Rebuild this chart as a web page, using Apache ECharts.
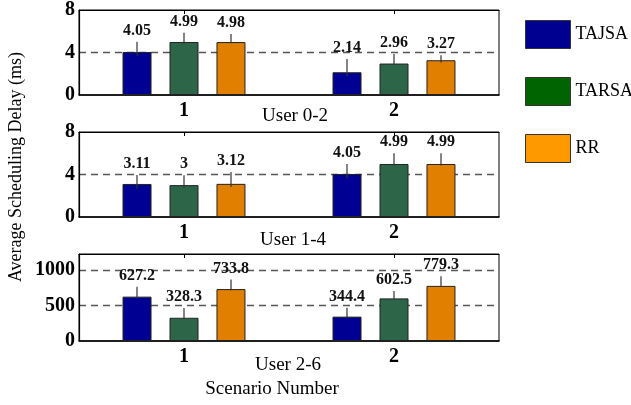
<!DOCTYPE html>
<html>
<head>
<meta charset="utf-8">
<script src="https://cdn.jsdelivr.net/npm/echarts@6/dist/echarts.min.js"></script>
<style>
  html, body { margin: 0; padding: 0; background: #fff; }
  #chart { width: 631px; height: 405px; }
</style>
</head>
<body>
<div id="chart"></div>
<script>
// Scenario categories and panel captions
const categories = ['1', '2'];
const panelTitles = ['User 0-2', 'User 1-4', 'User 2-6'];
const algorithms = ['TAJSA', 'TARSA', 'RR'];

// Mean scheduling delay (ms), per panel, per algorithm, per scenario
const tajsaP1 = [4.05, 2.14];
const tarsaP1 = [4.99, 2.96];
const rrP1 = [4.98, 3.27];

const tajsaP2 = [3.11, 4.05];
const tarsaP2 = [3.0, 4.99];
const rrP2 = [3.12, 4.99];

const tajsaP3 = [627.2, 344.4];
const tarsaP3 = [328.3, 602.5];
const rrP3 = [733.8, 779.3];

// Error bar extents above / below each mean
const tajsaUpP1 = [0.97, 1.25];
const tarsaUpP1 = [0.87, 0.9];
const rrUpP1 = [0.76, 0.48];
const tajsaDnP1 = [0.35, 0.37];
const tarsaDnP1 = [0.2, 0.05];
const rrDnP1 = [0.1, 0.22];

const tajsaUpP2 = [0.85, 0.94];
const tarsaUpP2 = [0.93, 1.0];
const rrUpP2 = [1.12, 1.0];
const tajsaDnP2 = [0.5, 0.4];
const tarsaDnP2 = [0.25, 0.15];
const rrDnP2 = [0.3, 0.15];

const tajsaUpP3 = [140, 125];
const tarsaUpP3 = [140, 105];
const rrUpP3 = [135, 136];
const tajsaDnP3 = [25, 15];
const tarsaDnP3 = [20, 15];
const rrDnP3 = [15, 15];

// Y axis ranges and tick spacing per panel
const yMax = [8, 8, 1230];
const yStep = [4, 4, 500];

const panels = [
  { vals: [tajsaP1, tarsaP1, rrP1], up: [tajsaUpP1, tarsaUpP1, rrUpP1], dn: [tajsaDnP1, tarsaDnP1, rrDnP1] },
  { vals: [tajsaP2, tarsaP2, rrP2], up: [tajsaUpP2, tarsaUpP2, rrUpP2], dn: [tajsaDnP2, tarsaDnP2, rrDnP2] },
  { vals: [tajsaP3, tarsaP3, rrP3], up: [tajsaUpP3, tarsaUpP3, rrUpP3], dn: [tajsaDnP3, tarsaDnP3, rrDnP3] }
];

const barColors = ['#000092', '#2c6548', '#e07f00'];
const legendColors = ['#000090', '#006400', '#ff9900'];
const SERIF = '"Liberation Serif", "DejaVu Serif", serif';

const BAR_W = 29;
const GAP = 18;
const STEP = BAR_W + GAP;

const grids = [
  { left: 79, top: 9, width: 420, height: 86 },
  { left: 79, top: 132, width: 420, height: 85 },
  { left: 79, top: 254, width: 420, height: 87 }
].map(g => Object.assign({ show: true, borderColor: '#000', borderWidth: 1, backgroundColor: 'transparent' }, g));

const xAxes = [];
const yAxes = [];
const series = [];

panels.forEach((p, gi) => {
  xAxes.push({
    type: 'category', gridIndex: gi, data: categories, position: 'bottom',
    axisLine: { show: true, lineStyle: { color: '#000', width: 1.6 } },
    axisTick: { show: false },
    axisLabel: { fontFamily: SERIF, fontWeight: 'bold', fontSize: 20, color: '#000', margin: 6 }
  });
  xAxes.push({
    type: 'category', gridIndex: gi, data: categories, position: 'top',
    axisLine: { show: true, lineStyle: { color: '#000', width: 1 } },
    axisTick: { show: true, inside: true, length: 4, alignWithLabel: true, lineStyle: { color: '#000' } },
    axisLabel: { show: false }
  });
  yAxes.push({
    type: 'value', gridIndex: gi, min: 0, max: yMax[gi], interval: yStep[gi],
    axisLine: { show: true, lineStyle: { color: '#000', width: 1.2 } },
    axisTick: { show: false },
    axisLabel: { fontFamily: SERIF, fontWeight: 'bold', fontSize: 20, color: '#000', margin: 4,
                 showMaxLabel: gi < 2, formatter: v => String(v) },
    splitLine: { show: true, showMinLine: false, showMaxLine: false,
                 lineStyle: { color: '#555', type: [7, 5], width: 1.3 } }
  });

  p.vals.forEach((arr, k) => {
    series.push({
      name: algorithms[k], type: 'bar', xAxisIndex: gi * 2, yAxisIndex: gi,
      data: arr, barWidth: BAR_W, barGap: Math.round(GAP / BAR_W * 100) + '%',
      itemStyle: { color: barColors[k], borderColor: '#222', borderWidth: 1 },
      emphasis: { disabled: true }, z: 2
    });
  });

  // error bars with value labels
  const errData = [];
  p.vals.forEach((arr, k) => {
    arr.forEach((v, ci) => errData.push([ci, v, k, p.up[k][ci], p.dn[k][ci]]));
  });
  series.push({
    type: 'custom', xAxisIndex: gi * 2, yAxisIndex: gi, z: 10,
    encode: { x: 0, y: 1 },
    data: errData,
    renderItem: function (params, api) {
      const ci = api.value(0), v = api.value(1), k = api.value(2);
      const up = api.value(3), dn = api.value(4);
      const base = api.coord([ci, v]);
      const x = base[0] + (k - 1) * STEP;
      const yTop = api.coord([ci, v + up])[1];
      const yBot = api.coord([ci, v - dn])[1];
      return {
        type: 'group',
        children: [
          { type: 'line', shape: { x1: x, y1: yTop, x2: x, y2: yBot }, style: { stroke: '#333', lineWidth: 1.2 } },
          { type: 'text', x: x, y: yTop - 3,
            style: { text: String(v), textAlign: 'center', textVerticalAlign: 'bottom',
                     font: 'bold 16px ' + SERIF, fill: '#111' } }
        ]
      };
    }
  });
});

const option = {
  animation: false,
  backgroundColor: '#fff',
  grid: grids,
  xAxis: xAxes,
  yAxis: yAxes,
  series: series,
  legend: {
    orient: 'vertical', left: 520, top: 15,
    itemWidth: 45, itemHeight: 28, itemGap: 28,
    icon: 'rect', selectedMode: false,
    textStyle: { fontFamily: SERIF, fontSize: 18, color: '#000', padding: [0, 0, 4, 0] },
    data: algorithms.map((n, k) => ({ name: n, itemStyle: { color: legendColors[k], borderColor: '#333', borderWidth: 1 } }))
  },
  graphic: [
    { type: 'text', x: 295, y: 116, style: { text: panelTitles[0], font: '19px ' + SERIF, fill: '#000', textAlign: 'center', textVerticalAlign: 'middle' } },
    { type: 'text', x: 293, y: 240, style: { text: panelTitles[1], font: '19px ' + SERIF, fill: '#000', textAlign: 'center', textVerticalAlign: 'middle' } },
    { type: 'text', x: 288, y: 365, style: { text: panelTitles[2], font: '19px ' + SERIF, fill: '#000', textAlign: 'center', textVerticalAlign: 'middle' } },
    { type: 'text', x: 272, y: 389, style: { text: 'Scenario Number', font: '19px ' + SERIF, fill: '#000', textAlign: 'center', textVerticalAlign: 'middle' } },
    { type: 'text', x: 16, y: 167, rotation: Math.PI / 2,
      style: { text: 'Average Scheduling Delay (ms)', font: '18px ' + SERIF, fill: '#000', textAlign: 'center', textVerticalAlign: 'middle' } }
  ]
};

const chart = echarts.init(document.getElementById('chart'), null, { renderer: 'canvas' });
chart.setOption(option);
</script>
</body>
</html>
